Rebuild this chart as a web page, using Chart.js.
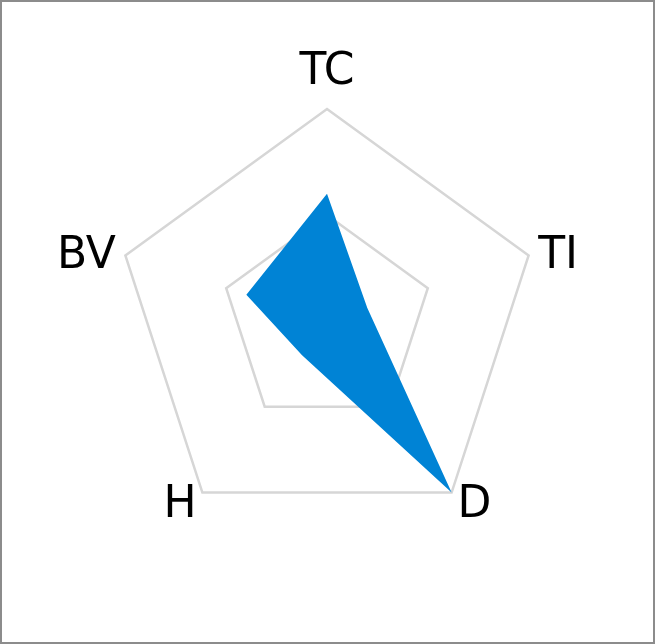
<!DOCTYPE html>
<html>
<head>
<meta charset="utf-8">
<script src="https://cdn.jsdelivr.net/npm/chart.js@4"></script>
<style>
  html, body { margin: 0; padding: 0; background: #fff; }
  #wrap { width: 655px; height: 644px; box-sizing: border-box; border: 2px solid #8c8c8c; }
  canvas { display: block; }
</style>
</head>
<body>
<div id="wrap"><canvas id="radarChart" width="651" height="640"></canvas></div>
<script>
const labels = ['TC', 'TI', 'D', 'H', 'BV'];
const values = [6, 2, 10, 2, 4];
const scaleMax = 10;
const scaleStep = 5;

// draws the axis names next to each outer vertex
const axisNames = {
    id: 'axisNames',
    afterDraw(chart) {
        const scale = chart.scales.r;
        const ctx = chart.ctx;
        ctx.save();
        ctx.font = '44px "DejaVu Sans"';
        ctx.fillStyle = '#000';
        ctx.textBaseline = 'alphabetic';
        labels.forEach((name, i) => {
            const p = scale.getPointPosition(i, scale.drawingArea + 10);
            const dx = p.x - scale.xCenter;
            ctx.textAlign = Math.abs(dx) < 1 ? 'center' : (dx > 0 ? 'left' : 'right');
            const y = Math.abs(dx) < 1 ? p.y - 15 : p.y + 16;
            ctx.fillText(name, p.x, y);
        });
        ctx.restore();
    }
};

const ctx = document.getElementById('radarChart').getContext('2d');
new Chart(ctx, {
    type: 'radar',
    data: {
        labels: labels,
        datasets: [{
            data: values,
            backgroundColor: '#0083d5',
            borderWidth: 0,
            pointRadius: 0,
            fill: true
        }]
    },
    options: {
        responsive: false,
        animation: false,
        layout: { padding: { top: 107, bottom: 109, left: 113, right: 114 } },
        plugins: { legend: { display: false }, tooltip: { enabled: false } },
        scales: {
            r: {
                min: 0,
                max: scaleMax,
                ticks: { display: false, stepSize: scaleStep },
                grid: { color: '#d6d6d6', lineWidth: 2.5 },
                angleLines: { display: false },
                pointLabels: { display: false }
            }
        }
    },
    plugins: [axisNames]
});
</script>
</body>
</html>
